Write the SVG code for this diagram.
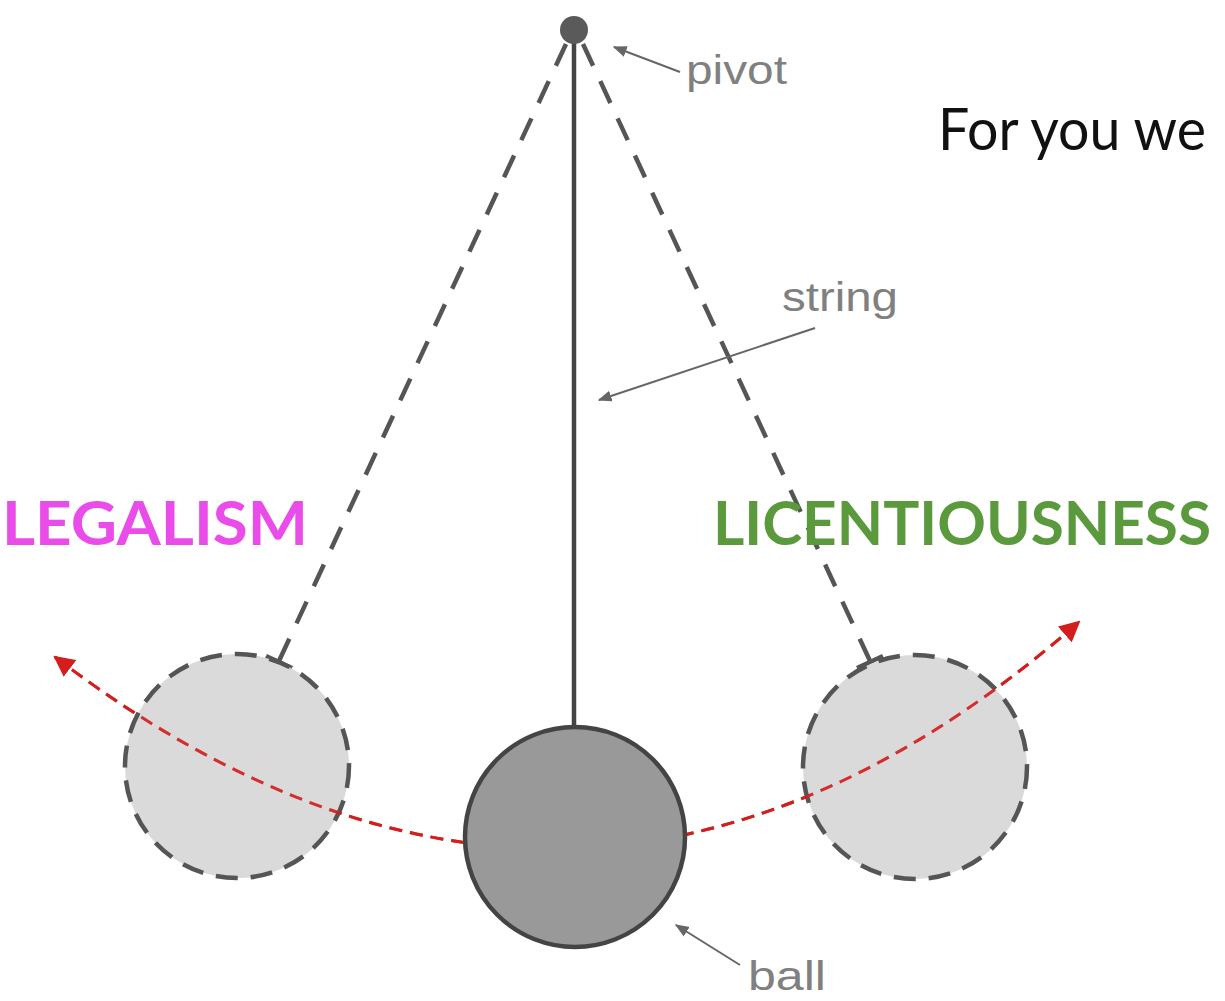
<svg xmlns="http://www.w3.org/2000/svg" width="1225" height="1001" viewBox="0 0 1225 1001">
<style>
.lbl{font-family:"Liberation Sans",Arial,sans-serif;font-size:40px;fill:#808080}
.big{font-family:Lato,"Open Sans",sans-serif;font-weight:bold;font-size:62px}
.ghost{fill:#d4d4d4;stroke:#555;stroke-width:4.5;stroke-dasharray:22 13}
.dstring{stroke:#555;stroke-width:4.5;stroke-dasharray:24 17;fill:none}
.pointer{stroke:#666;stroke-width:2;fill:none}
</style>
<defs>
<marker id="ah" viewBox="0 0 10 10" refX="9" refY="5" markerWidth="7" markerHeight="7" orient="auto-start-reverse" markerUnits="strokeWidth">
<path d="M0,0 L10,5 L0,10 z" fill="#d41e1e"/>
</marker>
<marker id="sa" viewBox="0 0 10 10" refX="9" refY="5" markerWidth="7" markerHeight="7" orient="auto" markerUnits="strokeWidth">
<path d="M0,1 L10,5 L0,9 z" fill="#666"/>
</marker>
</defs>
<rect width="1225" height="1001" fill="#fff"/>
<g id="connectors">
<line class="dstring" x1="566" y1="44" x2="279" y2="661"/>
<line x1="266" y1="656" x2="292" y2="668" stroke="#555" stroke-width="4.5"/>
<line class="dstring" x1="583" y1="44" x2="870" y2="661"/>
<line x1="857" y1="668" x2="883" y2="656" stroke="#555" stroke-width="4.5"/>
<line x1="574" y1="40" x2="574" y2="728" stroke="#444" stroke-width="4.5"/>
<path d="M55 657 Q581 1057 1079 622" fill="none" stroke="#d41e1e" stroke-width="3" stroke-dasharray="13 8" marker-start="url(#ah)" marker-end="url(#ah)"/>
<line class="pointer" x1="680" y1="72" x2="614" y2="47" marker-end="url(#sa)"/>
<line class="pointer" x1="815" y1="328" x2="599" y2="400" marker-end="url(#sa)"/>
<line class="pointer" x1="740" y1="965" x2="676" y2="925" marker-end="url(#sa)"/>
</g>
<g id="ghost-left"><circle class="ghost" cx="237" cy="766" r="112" fill-opacity="0.85"/></g>
<g id="ghost-right"><circle class="ghost" cx="915" cy="767" r="112" fill-opacity="0.85"/></g>
<path d="M55 657 Q581 1057 1079 622" fill="none" stroke="#d41e1e" stroke-width="3" stroke-dasharray="13 8" opacity="0.9"/>
<g id="ball"><circle cx="575" cy="837" r="110" fill="#999" stroke="#444" stroke-width="4.5"/></g>
<g id="pivot"><circle cx="574" cy="30" r="14" fill="#5a5a5a"/></g>
<g id="labels">
<text class="lbl" x="686" y="84" textLength="101" lengthAdjust="spacingAndGlyphs">pivot</text>
<text class="lbl" x="782" y="311" textLength="116" lengthAdjust="spacingAndGlyphs">string</text>
<text class="lbl" x="748" y="990" textLength="78" lengthAdjust="spacingAndGlyphs">ball</text>
<text class="big" x="2" y="545" fill="#ea4cea" textLength="306" lengthAdjust="spacingAndGlyphs">LEGALISM</text>
<text class="big" x="713" y="545" fill="#5a9a3c" textLength="498" lengthAdjust="spacingAndGlyphs">LICENTIOUSNESS</text>
<text x="938" y="150" font-family="Lato,'Open Sans',sans-serif" font-size="58" fill="#111" textLength="268" lengthAdjust="spacingAndGlyphs">For you we</text>
</g>
</svg>
